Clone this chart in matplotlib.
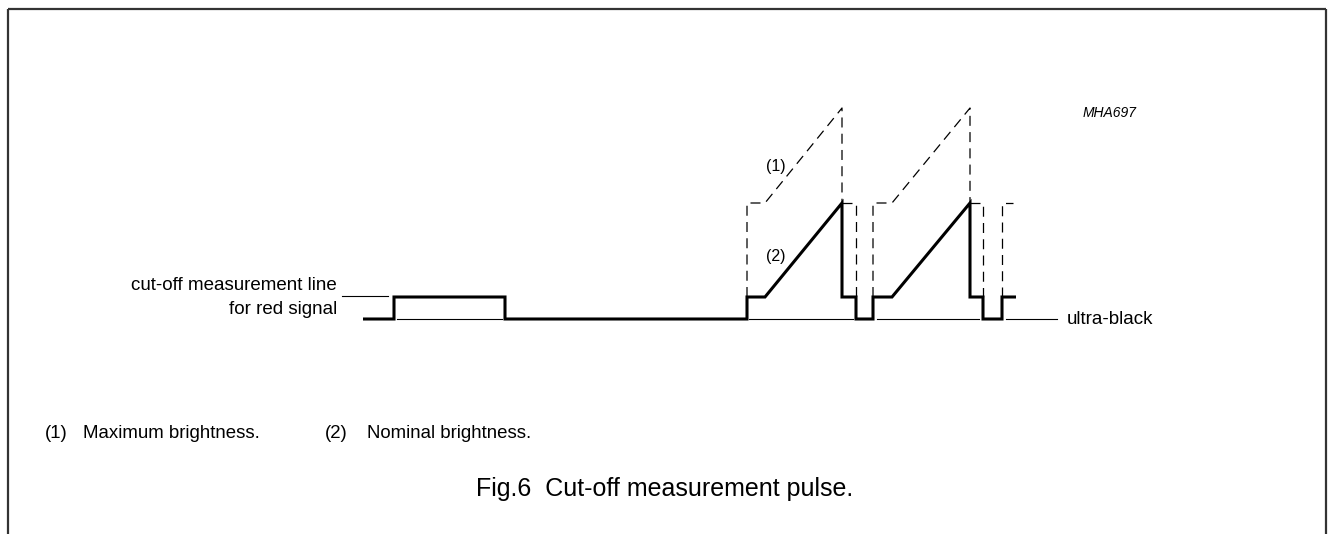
import matplotlib
matplotlib.use("Agg")
import matplotlib.pyplot as plt

plt.rcParams["font.family"] = ["Liberation Sans", "DejaVu Sans"]

# Figure geometry (pixels at dpi=100)
W, H = 1329, 534
BASE_Y = 319  # pixel row of the ultra-black level

# Signal levels (arbitrary units, ultra-black = 0)
ULTRA_BLACK = 0
CUTOFF = 22
NOMINAL_PEAK = 116
MAX_PEAK = 211

# Nominal signal (solid, thick): time / level break points
nominal_t = [363, 394, 394, 505, 505, 747, 747, 765, 842, 842, 856, 856,
             873, 873, 892, 970, 970, 983, 983, 1002, 1002, 1016]
nominal_v = [ULTRA_BLACK, ULTRA_BLACK, CUTOFF, CUTOFF, ULTRA_BLACK, ULTRA_BLACK,
             CUTOFF, CUTOFF, NOMINAL_PEAK, CUTOFF, CUTOFF, ULTRA_BLACK,
             ULTRA_BLACK, CUTOFF, CUTOFF, NOMINAL_PEAK, CUTOFF, CUTOFF,
             ULTRA_BLACK, ULTRA_BLACK, CUTOFF, CUTOFF]

# Maximum brightness envelope (dashed), one list per dashed run
max_t = [
    [747, 747, 765, 842, 842],
    [842, 856, 856],
    [873, 873, 892, 970, 970],
    [970, 983, 983],
    [1002, 1002, 1013],
]
max_v = [
    [CUTOFF, NOMINAL_PEAK, NOMINAL_PEAK, MAX_PEAK, NOMINAL_PEAK],
    [NOMINAL_PEAK, NOMINAL_PEAK, CUTOFF],
    [CUTOFF, NOMINAL_PEAK, NOMINAL_PEAK, MAX_PEAK, NOMINAL_PEAK],
    [NOMINAL_PEAK, NOMINAL_PEAK, CUTOFF],
    [CUTOFF, NOMINAL_PEAK, NOMINAL_PEAK],
]

# Thin ultra-black reference segments
ref_start = [397, 749, 877, 1006]
ref_end = [502, 853, 979, 1057]

footnotes = ["(1)", "Maximum brightness.", "(2)", "Nominal brightness."]
caption = "Fig.6  Cut-off measurement pulse."


def lvl(y_px):
    # pixel row -> level units for placing annotations
    return BASE_Y - y_px


fig = plt.figure(figsize=(W / 100, H / 100), dpi=100)
ax = fig.add_axes([0, 0, 1, 1])
ax.set_xlim(0, W)
ax.set_ylim(BASE_Y - H, BASE_Y)
ax.axis("off")

# page frame
frame_kw = dict(color="#333333", lw=1.6, solid_capstyle="butt")
ax.plot([8, 1326], [lvl(9), lvl(9)], **frame_kw)
ax.plot([8, 8], [lvl(9), lvl(H)], **frame_kw)
ax.plot([1326, 1326], [lvl(9), lvl(H)], **frame_kw)

# reference lines
for x0, x1 in zip(ref_start, ref_end):
    ax.plot([x0, x1], [ULTRA_BLACK, ULTRA_BLACK], color="black", lw=0.8)

# dashed maximum envelope
for t, v in zip(max_t, max_v):
    ax.plot(t, v, color="black", lw=0.9, dashes=(8, 5))

# nominal waveform
ax.plot(nominal_t, nominal_v, color="black", lw=2.2,
        solid_joinstyle="miter", solid_capstyle="butt")

# leader line for cut-off label
ax.plot([342, 388], [CUTOFF + 1.5, CUTOFF + 1.5], color="black", lw=0.8)

txt = dict(color="black", va="center")
ax.text(337, lvl(285), "cut-off measurement line", ha="right", fontsize=13.5, **txt)
ax.text(337, lvl(309), "for red signal", ha="right", fontsize=13.5, **txt)
ax.text(1067, lvl(319), "ultra-black", ha="left", fontsize=13.5, **txt)
ax.text(1083, lvl(113), "MHA697", ha="left", fontsize=10, style="italic", **txt)
ax.text(766, lvl(166), "(1)", ha="left", fontsize=11.5, **txt)
ax.text(766, lvl(257), "(2)", ha="left", fontsize=11.5, **txt)

for x, s in zip([45, 83, 325, 367], footnotes):
    ax.text(x, lvl(433), s, ha="left", fontsize=13.4, **txt)

ax.text(W / 2, lvl(489), caption, ha="center", fontsize=18, **txt)

fig.savefig("out.png", dpi=100)
